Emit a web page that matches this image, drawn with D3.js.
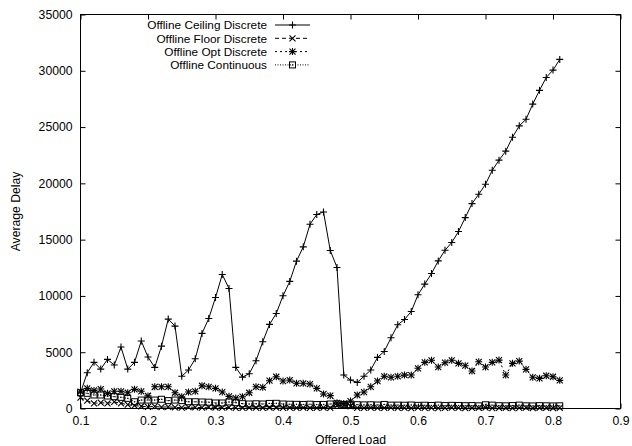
<!DOCTYPE html>
<html><head><meta charset="utf-8">
<script src="https://cdn.jsdelivr.net/npm/d3@7"></script>
<style>
html,body{margin:0;padding:0;background:#fff;}
svg text{font-family:"Liberation Sans",Arial,Helvetica,sans-serif;}
</style></head>
<body><svg id="c" width="632" height="446"></svg>
<script>
const loads = [0.10,0.11,0.12,0.13,0.14,0.15,0.16,0.17,0.18,0.19,0.20,0.21,0.22,0.23,0.24,0.25,0.26,0.27,0.28,0.29,0.30,0.31,0.32,0.33,0.34,0.35,0.36,0.37,0.38,0.39,0.40,0.41,0.42,0.43,0.44,0.45,0.46,0.47,0.48,0.49,0.50,0.51,0.52,0.53,0.54,0.55,0.56,0.57,0.58,0.59,0.60,0.61,0.62,0.63,0.64,0.65,0.66,0.67,0.68,0.69,0.70,0.71,0.72,0.73,0.74,0.75,0.76,0.77,0.78,0.79,0.80,0.81];
const ceilingDiscrete = [1400,3180,4100,3500,4360,3860,5460,3500,4100,5990,4570,3650,5540,7940,7320,2860,3420,4420,6670,8000,9860,11900,10660,3650,2790,3090,4240,5930,7470,8440,10010,11290,13090,14360,16370,17230,17460,14040,12530,2970,2530,2320,2860,3420,4540,5070,6280,7440,7910,8620,10100,11050,11990,13110,14060,14750,15720,16960,18200,19030,19920,21160,22060,22860,24100,25110,25690,27040,28260,29410,30060,31010];
const floorDiscrete = [960,690,460,520,460,580,460,340,250,200,150,180,120,150,100,80,120,100,80,120,90,70,100,60,50,80,70,60,90,70,60,80,50,70,60,50,80,60,250,300,200,60,50,70,60,50,80,50,60,40,70,50,60,40,50,70,50,40,60,50,70,40,50,60,40,50,70,40,50,60,40,50];
const optDiscrete = [1490,1790,1610,1730,1350,1530,1530,1400,1700,1530,1120,1930,1930,1930,1400,1050,1460,1530,2020,1930,1790,1460,1080,930,1050,1400,1930,1880,2470,2820,2440,2530,2240,2240,2170,1790,1290,1140,500,450,660,1200,1460,1930,2440,2860,2770,2860,2970,2970,3570,4100,4280,3680,4070,4280,4010,3800,3330,4150,3680,4100,4300,2970,4010,4210,3480,2770,2680,2910,2820,2500];
const continuous = [1400,1350,1200,1200,1110,1050,990,900,600,750,750,750,820,700,750,700,600,600,580,560,490,490,580,520,430,400,420,400,450,460,400,380,370,360,380,350,360,400,420,350,330,340,320,330,310,360,300,300,290,310,280,290,270,300,260,280,270,250,260,240,330,300,250,240,260,300,240,230,250,240,230,240];
const xTicks = [0.1,0.2,0.3,0.4,0.5,0.6,0.7,0.8,0.9];
const yTicks = [0,5000,10000,15000,20000,25000,30000,35000];
const seriesNames = ["Offline Ceiling Discrete","Offline Floor Discrete","Offline Opt Discrete","Offline Continuous"];
const xTitle = "Offered Load", yTitle = "Average Delay";

const svg = d3.select("#c");
const L = 80.5, R = 620.5, T = 14.5, B = 408.5;
const x = d3.scaleLinear().domain([0.1,0.9]).range([L,R]);
const y = d3.scaleLinear().domain([0,35000]).range([B,T]);
const fs = "12.2px";

const gx = svg.append("g").attr("transform",`translate(0,${B})`)
  .call(d3.axisBottom(x).tickValues(xTicks).tickFormat(d3.format(".1f")).tickSizeInner(-5).tickSizeOuter(0).tickPadding(7.5));
const gxt = svg.append("g").attr("transform",`translate(0,${T})`)
  .call(d3.axisTop(x).tickValues(xTicks).tickFormat("").tickSizeInner(-5).tickSizeOuter(0));
const gy = svg.append("g").attr("transform",`translate(${L},0)`)
  .call(d3.axisLeft(y).tickValues(yTicks).tickFormat(d3.format("d")).tickSizeInner(-5).tickSizeOuter(0).tickPadding(8));
const gyr = svg.append("g").attr("transform",`translate(${R},0)`)
  .call(d3.axisRight(y).tickValues(yTicks).tickFormat("").tickSizeInner(-5).tickSizeOuter(0));
[gx,gxt,gy,gyr].forEach(g=>{
  g.select(".domain").remove();
  g.selectAll(".tick line").attr("stroke","#000").attr("stroke-width",1);
  g.selectAll("text").attr("font-size",fs).attr("fill","#000").attr("font-family","Liberation Sans, Arial, sans-serif");
});
svg.append("rect").attr("x",L).attr("y",T).attr("width",R-L).attr("height",B-T)
  .attr("fill","none").attr("stroke","#000").attr("stroke-width",1);

svg.append("text").attr("x",(L+R)/2).attr("y",444).attr("text-anchor","middle").attr("font-size",fs).text(xTitle);
svg.append("text").attr("transform",`translate(19.5,${(T+B)/2}) rotate(-90)`).attr("text-anchor","middle").attr("font-size",fs).text(yTitle);

function marker(g, type, cx, cy){
  const s = 3.5;
  if(type==="plus"||type==="star"){
    g.append("path").attr("d",`M${cx-s},${cy}H${cx+s}M${cx},${cy-s}V${cy+s}`).attr("stroke","#000").attr("stroke-width",1.1).attr("fill","none");
  }
  if(type==="x"||type==="star"){
    const t = 3;
    g.append("path").attr("d",`M${cx-t},${cy-t}L${cx+t},${cy+t}M${cx-t},${cy+t}L${cx+t},${cy-t}`).attr("stroke","#000").attr("stroke-width",1.1).attr("fill","none");
  }
  if(type==="square"){
    g.append("rect").attr("x",cx-3).attr("y",cy-3).attr("width",6).attr("height",6).attr("fill","none").attr("stroke","#000").attr("stroke-width",1);
    g.append("rect").attr("x",cx-0.6).attr("y",cy-0.6).attr("width",1.2).attr("height",1.2).attr("fill","#000");
  }
}
const series = [
  {name:seriesNames[0], vals:ceilingDiscrete, dash:null, m:"plus"},
  {name:seriesNames[1], vals:floorDiscrete, dash:"4,3", m:"x"},
  {name:seriesNames[2], vals:optDiscrete, dash:"2,3", m:"star"},
  {name:seriesNames[3], vals:continuous, dash:"1,1.5", m:"square"}
];
const line = d3.line().x(d=>x(d[0])).y(d=>y(d[1]));
const plot = svg.append("g");
series.slice().reverse().forEach(s=>{
  const pts = loads.map((l,i)=>[l,s.vals[i]]);
  const g = plot.append("g");
  g.append("path").datum(pts).attr("d",line).attr("fill","none").attr("stroke","#000").attr("stroke-width",1)
    .attr("stroke-dasharray",s.dash);
  pts.forEach(p=>marker(g,s.m,x(p[0]),y(p[1])));
});

const lg = svg.append("g");
const lfs = "11.8px";
series.forEach((s,i)=>{
  const yy = 25 + i*13.3;
  lg.append("text").attr("x",267).attr("y",yy+4.2).attr("text-anchor","end").attr("font-size",lfs).text(s.name);
  lg.append("path").attr("d",`M275,${yy}H310`).attr("stroke","#000").attr("stroke-width",1).attr("stroke-dasharray",s.dash).attr("fill","none");
  marker(lg,s.m,292.5,yy);
});
</script></body></html>
